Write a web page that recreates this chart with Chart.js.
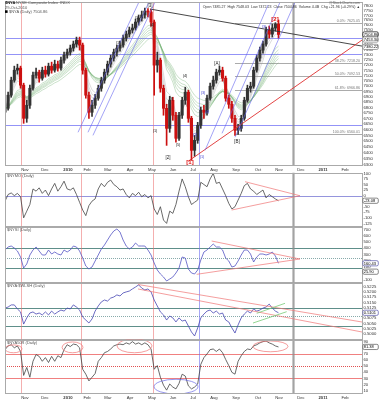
<!DOCTYPE html>
<html><head><meta charset="utf-8">
<script src="https://cdn.jsdelivr.net/npm/chart.js@4.4.1/dist/chart.umd.min.js"></script>
<style>
html,body{margin:0;padding:0;background:#fff;}
#wrap{position:relative;width:379px;height:400px;overflow:hidden;background:#fff;}
canvas{position:absolute;left:0;}
</style></head><body><div id="wrap">
<canvas id="p1" width="379" height="172" style="top:0px"></canvas>
<canvas id="p2" width="379" height="55" style="top:172px"></canvas>
<canvas id="p3" width="379" height="57" style="top:226px"></canvas>
<canvas id="p4" width="379" height="58" style="top:282px"></canvas>
<canvas id="p5" width="379" height="61" style="top:339px"></canvas>
</div>
<script>
const FONT = "'Liberation Sans', Arial, Helvetica, sans-serif";
// ---------------- DATA ----------------
const days = [0,3,6,9,12,15,18,21,24,27,30,33,36,39,42,45,48,51,54,57,60,63,66,69,72,75,78,81,84,87,90,93,96,99,102,105,108,111,114,117,120,123,126,129,132,135,138,141,144,147,150,153,156,159,162,165,168,171,174,177,180,183,186,189,192,195,198,201,204,207,210,213,216,219,222,225,228,231,234,237,240,243,246,249,252,255,258,261,264];
const monthDays = [19.3,38.6,60.8,79.2,99.4,120.7,141.9,162.2,181.5,201.7,223,244.2,264.5,285.7,307,328.2];
const monthLabels = ['Nov','Dec','2010','Feb','Mar','Apr','May','Jun','Jul','Aug','Sep','Oct','Nov','Dec','2011','Feb'];

const priceOpen = [6758,6794,6915,7056,7152,7172,7009,6703,6822,6980,7104,7133,7075,7152,7114,7191,7152,7210,7172,7249,7299,7328,7368,7408,7448,7398,7152,6915,6758,6822,6887,6980,7056,7133,7210,7269,7328,7368,7398,7468,7508,7549,7570,7631,7672,7704,7745,7735,7631,7201,7249,6980,6794,6613,6868,6731,6525,6731,6868,6943,6703,6420,6507,6640,6776,6758,6887,6999,7056,7133,7152,7075,6887,6831,6703,6596,6613,6703,6868,6980,6999,7152,7269,7348,7408,7549,7508,7570,7610];
const priceHigh = [6831,6943,7085,7191,7210,7191,7028,6868,7009,7133,7172,7152,7181,7191,7220,7230,7249,7240,7279,7328,7358,7398,7438,7478,7478,7418,7172,6943,6868,6924,7009,7085,7162,7240,7299,7358,7398,7438,7498,7539,7580,7610,7662,7704,7745,7775,7770,7766,7652,7328,7269,7009,6831,6905,6896,6758,6758,6896,6990,6962,6721,6551,6667,6804,6822,6915,7028,7095,7162,7191,7181,7095,6915,6859,6731,6649,6731,6896,7009,7037,7181,7299,7378,7438,7580,7590,7610,7625,7652];
const priceLow = [6731,6776,6896,7037,7114,6980,6658,6667,6794,6962,7075,7037,7056,7085,7095,7123,7133,7143,7152,7220,7269,7299,7338,7378,7348,7114,6887,6703,6721,6794,6868,6952,7028,7104,7181,7240,7289,7338,7378,7438,7478,7519,7549,7600,7641,7672,7683,7590,6915,7133,6943,6731,6463,6578,6685,6490,6507,6703,6831,6667,6334,6368,6481,6613,6703,6731,6868,6971,7028,7104,7047,6859,6794,6667,6551,6560,6587,6685,6850,6943,6980,7133,7240,7318,7388,7468,7478,7539,7468];
const priceClose = [6794,6915,7056,7152,7172,7009,6703,6822,6980,7104,7133,7075,7152,7114,7191,7152,7210,7172,7249,7299,7328,7368,7408,7448,7398,7152,6915,6758,6822,6887,6980,7056,7133,7210,7269,7328,7368,7398,7468,7508,7549,7570,7631,7672,7704,7745,7735,7631,7201,7249,6980,6794,6613,6868,6731,6525,6731,6868,6943,6703,6420,6507,6640,6776,6758,6887,6999,7056,7133,7152,7075,6887,6831,6703,6596,6613,6703,6868,6980,6999,7152,7269,7348,7408,7549,7508,7570,7610,7504.86];

const nymo = [-25,5,12,0,10,-5,-100,-70,-40,30,20,35,10,25,0,30,55,20,40,65,30,25,35,5,-30,-65,-90,-45,-25,-15,30,55,40,60,70,50,40,25,30,5,-10,10,0,15,-5,5,-10,0,-60,-85,-50,-110,-125,-70,-80,-40,20,75,40,-5,-40,-30,-20,60,50,40,75,100,55,60,30,0,-35,-60,-50,-20,10,45,55,30,20,5,15,25,-10,5,-5,-15,-23.08];
const nysi = [373,421,437,405,357,261,85,149,293,373,421,357,293,293,373,309,341,309,293,373,341,373,437,421,357,245,117,69,101,197,293,389,453,533,613,677,709,661,533,437,389,421,485,437,437,437,373,293,165,53,-11,-59,-123,-91,-59,5,85,261,245,69,5,-11,53,213,341,373,421,469,421,421,373,245,197,101,117,197,293,373,373,309,181,261,309,309,293,309,341,277,160.43];
const ratio = [0.5123,0.5128,0.5138,0.5138,0.5119,0.5105,0.5048,0.5077,0.5100,0.5105,0.5095,0.5100,0.5091,0.5105,0.5091,0.5109,0.5095,0.5105,0.5114,0.5109,0.5123,0.5119,0.5138,0.5128,0.5114,0.5081,0.5067,0.5053,0.5072,0.5109,0.5133,0.5152,0.5161,0.5156,0.5170,0.5175,0.5185,0.5180,0.5194,0.5199,0.5203,0.5213,0.5222,0.5232,0.5217,0.5208,0.5213,0.5199,0.5161,0.5133,0.5105,0.5091,0.5067,0.5086,0.5077,0.5058,0.5077,0.5062,0.5067,0.5039,0.5011,0.4992,0.5030,0.5077,0.5095,0.5109,0.5114,0.5100,0.5109,0.5095,0.5100,0.5067,0.5058,0.5030,0.5006,0.5044,0.5077,0.5095,0.5109,0.5100,0.5119,0.5109,0.5114,0.5123,0.5128,0.5142,0.5123,0.5109,0.5101];
const pct50 = [77,83,85,80,83,74,35,48,32,58,69,66,58,64,56,66,58,67,64,77,85,82,86,85,80,45,37,26,32,38,58,64,72,74,78,83,85,86,85,88,86,90,86,88,85,88,85,78,45,51,32,19,11,21,16,13,22,37,34,18,13,16,21,53,64,70,77,78,74,78,72,61,51,40,37,58,67,74,78,77,83,85,88,90,91,88,86,83,81.38];

const priceTicks = [7800,7750,7700,7650,7600,7550,7500,7450,7400,7350,7300,7250,7200,7150,7100,7050,7000,6950,6900,6850,6800,6750,6700,6650,6600,6550,6500,6450,6400,6350,6300];
const nymoTicks = [100,75,50,25,0,-25,-50,-75,-100,-125];
const nysiTicks = [700,600,500,400,300,200,100,0,-100];
const ratioTicks = [0.5225,0.5200,0.5175,0.5150,0.5125,0.5100,0.5075,0.5050,0.5025,0.5000];
const pctTicks = [90,80,70,60,50,40,30,20,10];

const fibHigh = 7625.05, fibLow = 6560.01;
const fibLevels = [0, 38.2, 50, 61.8, 100];
const emaShortN = [1.7,2.7,3.3,4,5];
const emaLongN = [10,11.7,13.3,15,16.7,20];

// wave labels: text, day position, price level
const waveText = ['[3]','(1)','(3)','(4)','(1)','(3)','(4)','(5)','[2]','[A]','[B]','(1)','(2)','(3)','(4)','(1)','(3)'];
const waveDay  = [140,109.1,127.4,141.9,144.8,160.2,173.7,167,157.3,204.6,223.9,190.2,183.4,191.1,195,226.8,250];
const waveLvl  = [7798,7418,7672,7600,6587,6878,7095,6463,6359,7210,6498,6359,6551,6933,6758,6613,7580];
const waveBlue = [0,0,0,0,0,0,0,0,0,0,0,1,1,1,1,1,1];

// ---------------- HELPERS ----------------
const X_MAX = 344.6;
function ema(arr, n){ const a = 2/(n+1); let e = arr[0]; return arr.map(v => (e = e + a*(v-e))); }
function pts(arr){ return days.map((d,i)=>({x:d, y:arr[i]})); }

function xCfg(show){
  return {
    type:'linear', min:0, max:X_MAX, display:show, offset:false,
    grid:{display:false, drawTicks:false, offset:false}, border:{display:false},
    afterBuildTicks: s => { s.ticks = monthDays.map(v=>({value:v})); },
    afterFit: s => { s.height = show ? 6 : 0; s.paddingLeft=0; s.paddingRight=0; },
    ticks:{ autoSkip:false, maxRotation:0, minRotation:0, padding:1, color:'#333',
      font: c => { const l = monthLabels[monthDays.indexOf(c.tick && c.tick.value)] || ''; return {family:FONT, size:4.2, weight: /^\d{4}$/.test(l)?'bold':'normal'}; },
      callback: v => monthLabels[monthDays.indexOf(v)] || '' }
  };
}
function yCfg(type,min,max,ticks,fmt){
  return {
    type, min, max, position:'right',
    grid:{display:false, drawTicks:false}, border:{display:false},
    afterBuildTicks: s => { s.ticks = ticks.map(v=>({value:v})); },
    afterFit: s => { s.width = 17; s.paddingTop=0; s.paddingBottom=0; },
    ticks:{ autoSkip:false, padding:1.5, color:'#333', font:{family:FONT, size:4.2}, callback: fmt }
  };
}
function opts(show, y, top, bottom){
  return {
    responsive:false, animation:false, devicePixelRatio:1, events:[],
    layout:{padding:{left:5, right:0, top, bottom}},
    plugins:{legend:{display:false}, tooltip:{enabled:false}},
    scales:{x:xCfg(show), y}
  };
}

const VL = [
  {u:15.2, c:'rgba(235,110,110,0.55)', w:1},
  {u:73.1, c:'rgba(235,110,110,0.55)', w:1},
  {u:143.1, c:'rgba(235,110,110,0.55)', w:1},
  {u:187.3, c:'rgba(110,110,240,0.6)', w:1},
  {u:277.7, c:'rgba(140,140,140,0.8)', w:2.2}
];
const PINK = 'rgba(240,120,120,0.9)';
const BLUE = 'rgba(100,100,240,0.85)';
const TEAL = '#5e8f8a';

const waveTexts = waveText.map((t,i)=>{
  const big = t==='[1]' || (t==='[2]' && i!==8);
  return {u:waveDay[i], v:waveLvl[i], t, c: waveBlue[i] ? '#4a4ad0' : '#222', s: t.startsWith('[') ? 4.5 : 3.8};
});

const DECOR = {
  p1: {
    hl:[{v:7465,c:'rgba(120,120,245,0.8)'},{v:7308,c:'rgba(120,120,245,0.8)'},{v:6640,c:'rgba(120,120,245,0.8)'}]
      .concat(fibLevels.map(p=>({v:fibHigh-p/100*(fibHigh-fibLow), u0:222, c:'rgba(150,150,150,0.8)', fib:p}))),
    seg:[
      {p:[140,7766,344.6,7388], c:'#333', w:0.9},
      {p:[176.6,6325,344.6,7448], c:'#e03030', w:0.9},
      {p:[70.5,6578,129.3,7840], c:BLUE, w:0.7},
      {p:[80.1,6578,139,7840], c:BLUE, w:0.7},
      {p:[84.9,6551,144.8,7840], c:BLUE, w:0.7},
      {p:[193.1,6420,253.9,7808], c:BLUE, w:0.7},
      {p:[209.5,6569,266.4,7861], c:BLUE, w:0.7},
      {p:[222,6534,280.9,7861], c:BLUE, w:0.7}
    ],
    texts: waveTexts.concat([
      {u:178.6,v:6318,t:'[1]',c:'#e01010',s:6,b:true},
      {u:260.6,v:7655,t:'[2]',c:'#e01010',s:6,b:true}
    ]),
    boxes:[{v:7504.86,t:'7504.86',c:'#000'},{v:7453.30,t:'7453.30',c:'#777'},{v:7380.22,t:'7380.22',c:'#777'}],
    header:true
  },
  p2: {
    title:'$NYMO (Daily)',
    hl:[{v:0,c:'rgba(130,130,215,0.85)'}],
    seg:[{p:[231.7,62.6,284.7,-0.5],c:PINK,w:0.8},{p:[218.8,-64.8,284.7,-0.5],c:PINK,w:0.8}],
    boxes:[{v:-23.08,t:'-23.08',c:'#555'}]
  },
  p3: {
    title:'$NYSI (Daily)',
    hl:[{v:400,c:TEAL},{v:80,c:TEAL},{v:240,c:'#8aa',dash:[1,1]}],
    seg:[{p:[199.5,517,284.7,229],c:PINK,w:0.8},{p:[185,-16,284.7,229],c:PINK,w:0.8}],
    boxes:[{v:160.43,t:'160.43',c:'#55a'},{v:25.9,t:'25.90',c:'#555'}]
  },
  p4: {
    title:'$NYA:$WLSH (Daily)',
    hl:[{v:0.5125,c:TEAL},{v:0.5040,c:TEAL},{v:0.5086,c:'#8aa',dash:[1,1]}],
    seg:[{p:[128.4,0.52338,344.6,0.50577],c:PINK,w:0.8},{p:[128.4,0.52127,344.6,0.50108],c:PINK,w:0.8},
         {p:[243,0.50986,270.3,0.51455],c:'#7c7',w:0.8},{p:[239.4,0.50530,271.9,0.51061],c:'#7c7',w:0.8}],
    boxes:[{v:0.5101,t:'0.5101',c:'#55a'}]
  },
  p5: {
    title:'$NYA50R (Daily)',
    hl:[{v:70,c:'#f08080'},{v:30,c:'#f08080'},{v:50,c:'#e05050',dash:[1,1]}],
    ell:[{u:8.2,v:78.3,ru:8.2,rv:6.4,c:PINK},{u:65.2,v:80.7,ru:10.1,rv:8.8,c:PINK},{u:125,v:83.1,ru:16.9,rv:11.2,c:PINK},{u:256.3,v:82.3,ru:16.9,rv:8.8,c:PINK},{u:165.1,v:16.7,ru:21.2,rv:12,c:'rgba(110,110,230,0.9)'}],
    boxes:[{v:81.38,t:'81.38',c:'#555'}]
  }
};

function fnt(s,b){ return (b?'bold ':'')+s+'px '+FONT; }
const decor = {
  id:'decor',
  beforeDatasetsDraw(chart){
    const d = DECOR[chart.canvas.id]; if(!d) return;
    const {ctx, chartArea:a, scales:{x,y}} = chart;
    ctx.save(); ctx.beginPath(); ctx.rect(a.left,a.top,a.right-a.left,a.bottom-a.top); ctx.clip();
    (d.hl||[]).forEach(h=>{
      const py = Math.round(y.getPixelForValue(h.v))+0.5;
      const x0 = h.u0==null ? a.left : x.getPixelForValue(h.u0);
      ctx.strokeStyle=h.c; ctx.lineWidth=h.w||1; ctx.setLineDash(h.dash||[]);
      ctx.beginPath(); ctx.moveTo(x0,py); ctx.lineTo(a.right,py); ctx.stroke();
    });
    ctx.setLineDash([]);
    VL.forEach(l=>{ const px=Math.round(x.getPixelForValue(l.u))+0.5; ctx.strokeStyle=l.c; ctx.lineWidth=l.w; ctx.beginPath(); ctx.moveTo(px,a.top); ctx.lineTo(px,a.bottom); ctx.stroke(); });
    ctx.restore();
  },
  afterDatasetsDraw(chart){
    const d = DECOR[chart.canvas.id]; if(!d) return;
    const {ctx, chartArea:a, scales:{x,y}} = chart;
    ctx.save(); ctx.beginPath(); ctx.rect(a.left,a.top,a.right-a.left,a.bottom-a.top); ctx.clip();
    (d.seg||[]).forEach(s=>{ ctx.strokeStyle=s.c; ctx.lineWidth=s.w; ctx.beginPath();
      ctx.moveTo(x.getPixelForValue(s.p[0]), y.getPixelForValue(s.p[1])); ctx.lineTo(x.getPixelForValue(s.p[2]), y.getPixelForValue(s.p[3])); ctx.stroke(); });
    (d.ell||[]).forEach(e=>{ const cx=x.getPixelForValue(e.u), cy=y.getPixelForValue(e.v);
      const rx=Math.abs(x.getPixelForValue(e.u+e.ru)-cx), ry=Math.abs(y.getPixelForValue(e.v+e.rv)-cy);
      ctx.strokeStyle=e.c; ctx.lineWidth=0.8; ctx.beginPath(); ctx.ellipse(cx,cy,rx,ry,0,0,Math.PI*2); ctx.stroke(); });
    ctx.restore();
    ctx.save();
    (d.hl||[]).filter(h=>h.fib!=null).forEach(h=>{
      ctx.font=fnt(3.6); ctx.fillStyle='#777'; ctx.textAlign='right'; ctx.textBaseline='bottom';
      ctx.fillText(h.fib.toFixed(1)+'%: '+h.v.toFixed(2), a.right-2, y.getPixelForValue(h.v)-0.2);
    });
    (d.texts||[]).forEach(t=>{ ctx.font=fnt(t.s,t.b); ctx.fillStyle=t.c; ctx.textAlign='center'; ctx.textBaseline='middle';
      ctx.fillText(t.t, x.getPixelForValue(t.u), y.getPixelForValue(t.v)); });
    ctx.strokeStyle='#aaa'; ctx.lineWidth=1;
    ctx.strokeRect(Math.round(a.left)+0.5, Math.round(a.top)+0.5, Math.round(a.right)-Math.round(a.left), Math.round(a.bottom)-Math.round(a.top)-1);
    if(d.title){ ctx.font=fnt(4); ctx.fillStyle='#555'; ctx.textAlign='left'; ctx.textBaseline='top'; ctx.fillText(d.title, a.left+2, a.top+1.5); }
    (d.boxes||[]).forEach(b=>{ const py=y.getPixelForValue(b.v);
      ctx.fillStyle='#fff'; ctx.strokeStyle=b.c; ctx.lineWidth=0.7;
      ctx.beginPath(); ctx.roundRect ? ctx.roundRect(a.right+0.8, py-2.6, 15.5, 5.2, 1.5) : ctx.rect(a.right+0.8, py-2.6, 15.5, 5.2); ctx.fill(); ctx.stroke();
      ctx.fillStyle='#000'; ctx.font=fnt(4); ctx.textAlign='left'; ctx.textBaseline='middle'; ctx.fillText(b.t, a.right+1.8, py+0.2); });
    if(d.header){
      ctx.textBaseline='middle'; ctx.textAlign='left'; ctx.fillStyle='#222';
      ctx.font=fnt(4,true); ctx.fillText('$NYA', 5, 3);
      ctx.font=fnt(4); ctx.fillStyle='#555'; ctx.fillText('NYSE Composite Index  INDX', 16, 3);
      ctx.fillText('29-Oct-2010', 5, 7.5);
      ctx.fillStyle='#000'; ctx.fillRect(5,10.3,2.6,2.6);
      ctx.fillStyle='#555'; ctx.fillText('$NYA (Daily) 7504.86', 9, 11.8);
      ctx.textAlign='right'; ctx.font=fnt(3.6); ctx.fillStyle='#666';
      ctx.fillText('@StockCharts.com', 360, 2.5);
      ctx.fillStyle='#333'; ctx.font=fnt(3.6);
      ctx.fillText('Open 7485.27  High 7548.03  Low 7472.23  Close 7504.86  Volume 4.4B  Chg +21.96 (+0.29%) \u25B2', 360, 6.6);
    }
    ctx.restore();
  }
};
Chart.register(decor);

// ---------------- CHARTS ----------------
const candleCol = priceClose.map((c,i)=> c < priceOpen[i] ? '#cc1010' : '#333');
const ribbons = emaShortN.map(n=>({type:'line', data:pts(ema(priceClose,n)), borderColor:'rgba(150,150,150,0.55)', borderWidth:0.6, pointRadius:0, tension:0}))
  .concat(emaLongN.map(n=>({type:'line', data:pts(ema(priceClose,n)), borderColor:'rgba(110,175,110,0.6)', borderWidth:0.6, pointRadius:0, tension:0})));

new Chart(document.getElementById('p1'), {
  type:'bar',
  data:{datasets:[
    {type:'bar', data:days.map((d,i)=>({x:d, y:[priceOpen[i], priceClose[i]]})), backgroundColor:candleCol, barThickness:2.4, minBarLength:1, grouped:false},
    {type:'bar', data:days.map((d,i)=>({x:d, y:[priceLow[i], priceHigh[i]]})), backgroundColor:candleCol, barThickness:1, grouped:false}
  ].concat(ribbons)},
  options: opts(true, yCfg('logarithmic', 6286, 7840, priceTicks, v=>String(v)), 2, 0)
});

function lineChart(id, arr, color, y, top, bottom, show){
  new Chart(document.getElementById(id), {
    type:'line',
    data:{datasets:[{data:pts(arr), borderColor:color, borderWidth:0.8, pointRadius:0, tension:0}]},
    options: opts(show, y, top, bottom)
  });
}
lineChart('p2', nymo, '#444', yCfg('linear', -139, 104, nymoTicks, v=>String(v)), 0.5, 0.5, false);
lineChart('p3', nysi, '#5656c4', yCfg('linear', -147, 749, nysiTicks, v=>String(v)), 0.5, 0.5, false);
lineChart('p4', ratio, '#4646b4', yCfg('linear', 0.49756, 0.52432, ratioTicks, v=>v.toFixed(4)), 0.5, 0.5, false);
lineChart('p5', pct50, '#444', yCfg('linear', 4.7, 93.5, pctTicks, v=>String(v)), 0.5, 0, true);
</script></body></html>
